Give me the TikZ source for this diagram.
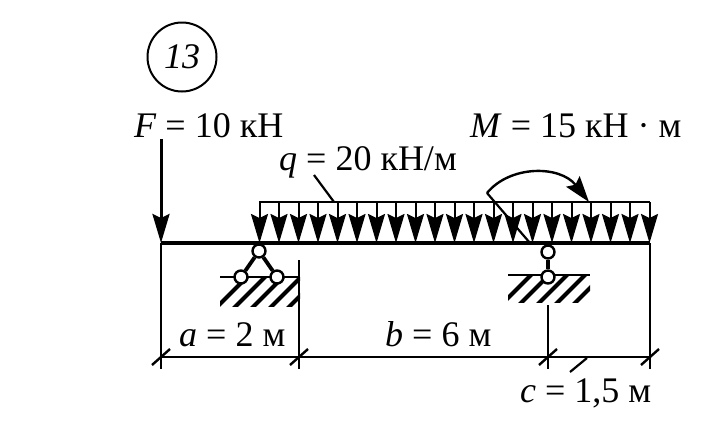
\documentclass[tikz,border=0pt]{standalone}
\usepackage{fontspec}
\setmainfont{Liberation Serif}
\usetikzlibrary{arrows.meta}
\tikzset{
  label/.style={inner sep=0pt, anchor=base west, font=\fontsize{36}{38}\selectfont},
  hinge/.style={circle, draw, line width=2.4pt, fill=white, minimum size=13pt, inner sep=0pt},
  link/.style={line width=3.8pt},
  dim/.style={line width=1.9pt},
  ext/.style={line width=2.1pt},
  load/.style={line width=2pt, -{Stealth[length=29pt,width=17pt,inset=4pt]}},
  hatch/.style={line width=4pt}
}
\begin{document}
\begin{tikzpicture}[x=1pt, y=-1pt]
  \useasboundingbox (0,0) rectangle (714,426);

  % Numero
  \node[circle, draw, line width=2pt, minimum size=69pt, inner sep=0pt, font=\fontsize{36}{38}\itshape] (num) at (182,57) {13};

  % Pontos da viga
  \coordinate (bL) at (161,243);
  \coordinate (bA) at (259,243);
  \coordinate (bR) at (650,243);
  \coordinate (ftop) at (161,139);

  % Forca F
  \draw[line width=3pt, -{Stealth[length=29pt,width=17pt,inset=4pt]}] (ftop) -- (bL);
  \node[label] (flabel) at (134,137) {\textit{F} = 10 кН};

  % Viga
  \draw[line width=3.8pt] (bL) -- (bR);

  % Carga distribuida
  \coordinate (qL) at (259,202);
  \coordinate (qR) at (650,202);
  \draw[line width=2.2pt] (qL) -- (qR);
  \foreach \i in {0,...,20} {
    \coordinate (qt\i) at (259.5+19.5*\i,202);
    \coordinate (qb\i) at (259.5+19.5*\i,243);
    \draw[load] (qt\i) -- (qb\i);
  }
  \node[label] (qlabel) at (279,170) {\textit{q} = 20 кН/м};
  \coordinate (qlead) at (314,175);
  \coordinate (qfoot) at (334,202);
  \draw[line width=2.2pt] (qlead) -- (qfoot);

  % Momento M
  \coordinate (mstart) at (487,193);
  \coordinate (mfoot) at (530,243);
  \coordinate (mend) at (589,202);
  \draw[line width=2.2pt] (mfoot) -- (mstart);
  \draw[line width=2.4pt, -{Stealth[length=26pt,width=17pt,inset=4pt]}] (mstart) .. controls (510,165) and (560,165) .. (mend);
  \node[label] (mlabel) at (470,137) {\textit{M} = 15 кН · м};

  % Apoio esquerdo
  \begin{scope}
    \clip (220,277) rectangle (300,306);
    \foreach \i in {0,...,6}
      \draw[hatch] (214+18*\i,310) -- (250+18*\i,274);
  \end{scope}
  \draw[line width=2.6pt] (220,277) -- (300,277);
  \node[hinge] (a1) at (259,251) {};
  \node[hinge] (a2) at (241,277) {};
  \node[hinge] (a3) at (277,277) {};
  \draw[link] (a1) -- (a2);
  \draw[link] (a1) -- (a3);
  \draw[line width=2.6pt] (a2) -- (a3);

  % Apoio direito
  \begin{scope}
    \clip (508,275) rectangle (590,302);
    \foreach \i in {0,...,6}
      \draw[hatch] (500+18*\i,306) -- (536+18*\i,270);
  \end{scope}
  \draw[line width=2.6pt] (508,275) -- (590,275);
  \node[hinge] (b1) at (548,252) {};
  \node[hinge] (b2) at (548,277) {};
  \draw[link] (b1) -- (b2);

  % Cotas
  \coordinate (d0) at (161,357);
  \coordinate (d1) at (299,357);
  \coordinate (d2) at (548,357);
  \coordinate (d3) at (650,357);
  \draw[dim] (d0) -- (d3);
  \draw[ext] (bL) -- (161,369);
  \draw[ext] (299,260) -- (299,369);
  \draw[ext] (548,305) -- (548,369);
  \draw[ext] (bR) -- (650,369);
  \foreach \p in {d0,d1,d2,d3}
    \draw[line width=2.4pt] ([shift={(-9,8)}]\p) -- ([shift={(9,-8)}]\p);
  \node[label] (alabel) at (179,346) {\textit{a} = 2 м};
  \node[label] (blabel) at (385,346) {\textit{b} = 6 м};
  \node[label] (clabel) at (520,402) {\textit{c} = 1,5 м};
  \coordinate (clead) at (570,372);
  \coordinate (cfoot) at (587,358);
  \draw[line width=2.2pt] (clead) -- (cfoot);
\end{tikzpicture}
\end{document}
